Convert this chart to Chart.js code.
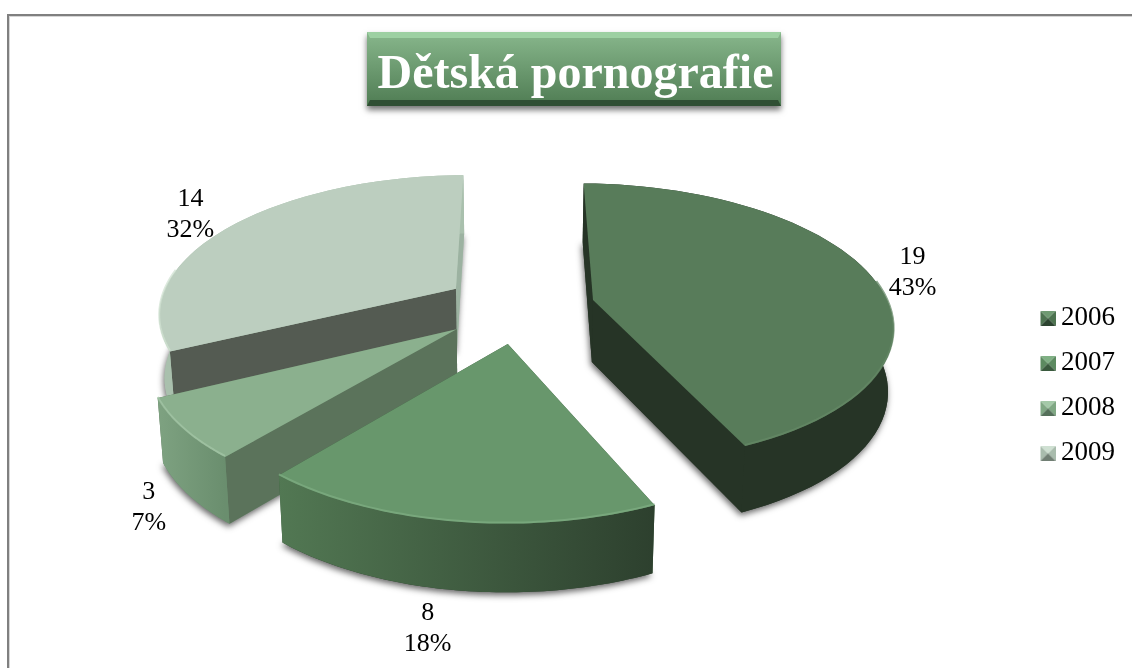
<!DOCTYPE html>
<html lang="cs">
<head>
<meta charset="utf-8">
<title>Dětská pornografie</title>
<style>html,body{margin:0;padding:0;background:#fff}canvas{display:block}</style>
<script src="https://cdn.jsdelivr.net/npm/chart.js@4/dist/chart.umd.min.js"></script>
</head>
<body>
<canvas id="c" width="1132" height="668"></canvas>
<script>
const categories = ['2006', '2007', '2008', '2009'];
const values = [19, 8, 3, 14];
const chartTitle = 'Dětská pornografie';

const topColors = ['#587c5a', '#68976c', '#8bb08e', '#bcceBf'];
const rimColors = ['#648866', '#7dac81', '#a3c6a6', '#d0e2d2'];
const radialWall = [['#263426', '#263426'], ['#3a5a3c', '#3a5a3c'], ['#5b735b', '#5b735b'], ['#545b52', '#9cb2a1']];
const outerWall = [['#263426', '#263426'], ['#527853', '#2d402e'], ['#7ea281', '#6a8e6e'], ['#a9c0ad', '#a9c0ad']];
const iconColors = [['#6f9a72', '#4d7350', '#2c4430'], ['#7fb084', '#5c8a60', '#3a5a3e'], ['#a4c9a8', '#80a884', '#55705a'], ['#cfe0d2', '#a9bcad', '#717f74']];
const FONT = '"Liberation Serif", "Times New Roman", serif';

// ground-plane perspective used to tilt the library's arcs
const VX = 517, HORIZON = -677, K = 4.7e-4, CA = 0.002, CZ = 2.1614, RX = 0.303, RZ = 0.305, BULGE = 3;
function project(u, v) {
  const a = CA + u * RX, z = CZ + v * RZ, Y = 1 / (K * z);
  return [VX + a * Y, HORIZON + Y + BULGE * (u * u + v * v)];
}
function lower(p) { return [VX + 0.985 * (p[0] - VX), p[1] * 1.03 + 53]; }

function outline(el) {
  const e = el.options.offset / el.outerRadius;
  const s = el.startAngle + Math.PI / 2, t = el.endAngle + Math.PI / 2, m = (s + t) / 2;
  const ou = Math.sin(m) * e, ov = Math.cos(m) * e;
  const n = 60, arc = [];
  for (let i = 0; i <= n; i++) {
    const a = s + (t - s) * i / n;
    arc.push({ p: project(ou + Math.sin(a), ov + Math.cos(a)), front: Math.cos(a) });
  }
  return { vertex: project(ou, ov), arc, m };
}
function poly(ctx, pts) {
  ctx.beginPath();
  pts.forEach((p, i) => i ? ctx.lineTo(p[0], p[1]) : ctx.moveTo(p[0], p[1]));
  ctx.closePath();
}

const pie3d = {
  id: 'pie3d',
  beforeDatasetsDraw(chart) {
    const ctx = chart.ctx, arcs = chart.getDatasetMeta(0).data;
    for (let i = arcs.length - 1; i >= 0; i--) {
      const o = outline(arcs[i]);
      const top = [o.vertex, ...o.arc.map(q => q.p)];
      const bot = top.map(lower);
      const first = o.arc[0].p, last = o.arc[o.arc.length - 1].p;
      const vb = lower(o.vertex);

      // soft shadow of the whole body
      ctx.save();
      ctx.shadowColor = 'rgba(0,0,0,0.6)';
      ctx.shadowBlur = 6;
      ctx.shadowOffsetX = -1;
      ctx.shadowOffsetY = 3;
      ctx.fillStyle = outerWall[i][1];
      poly(ctx, bot); ctx.fill();
      ctx.restore();

      // radial walls
      ctx.fillStyle = radialWall[i][1];
      poly(ctx, [o.vertex, last, lower(last), vb]); ctx.fill();
      ctx.fillStyle = radialWall[i][0];
      poly(ctx, [o.vertex, first, lower(first), vb]); ctx.fill();

      // outer curved wall
      const xs = o.arc.map(q => q.p[0]);
      const g = ctx.createLinearGradient(Math.min(...xs), 0, Math.max(...xs), 0);
      g.addColorStop(0, outerWall[i][0]);
      g.addColorStop(1, outerWall[i][1]);
      ctx.fillStyle = g;
      poly(ctx, [...o.arc.map(q => q.p), ...o.arc.map(q => lower(q.p)).reverse()]);
      ctx.fill();

      // top face
      ctx.fillStyle = arcs[i].options.backgroundColor;
      poly(ctx, top); ctx.fill();

      // bevelled front rim
      ctx.save();
      ctx.beginPath();
      let on = false;
      o.arc.forEach(q => {
        if (q.front < 0.2) { on ? ctx.lineTo(q.p[0], q.p[1] - 1) : ctx.moveTo(q.p[0], q.p[1] - 1); on = true; }
        else on = false;
      });
      ctx.lineWidth = 2;
      ctx.globalAlpha = 0.75;
      ctx.strokeStyle = rimColors[i];
      ctx.stroke();
      ctx.restore();
    }
    return false;
  },
  afterDraw(chart) {
    const ctx = chart.ctx, arcs = chart.getDatasetMeta(0).data;
    const sum = values.reduce((a, b) => a + b, 0);
    const labelRadius = 1.4, nudgeX = [2, -19, 3, -11], nudgeY = [-1, 7, -4, -4];
    ctx.save();
    ctx.font = '26px ' + FONT;
    ctx.fillStyle = '#000';
    ctx.textAlign = 'center';
    ctx.textBaseline = 'middle';
    arcs.forEach((el, i) => {
      const o = outline(el);
      const dirU = Math.sin(o.m), dirV = Math.cos(o.m);
      let p = project(dirU * labelRadius, dirV * labelRadius);
      if (dirV < 0) p = lower(p);
      const x = p[0] + nudgeX[i], y = p[1] + nudgeY[i];
      ctx.fillText(String(values[i]), x, y - 15.5);
      ctx.fillText(Math.round(values[i] / sum * 100) + '%', x, y + 15.5);
    });
    ctx.restore();
  },
  beforeDraw(chart) {
    const ctx = chart.ctx;
    ctx.save();
    ctx.fillStyle = '#fff';
    ctx.fillRect(0, 0, chart.width, chart.height);
    ctx.fillStyle = '#808080';
    ctx.fillRect(7, 14, chart.width - 7, 2);
    ctx.fillRect(7, 14, 2, chart.height - 14);
    ctx.fillStyle = '#d6d6d6';
    ctx.fillRect(9, 16, chart.width - 9, 1);
    ctx.fillRect(9, 16, 1, chart.height - 16);

    // title plaque
    const x = 367, y = 32, w = 414, h = 74, b = 6, side = 3;
    ctx.save();
    ctx.shadowColor = 'rgba(0,0,0,0.55)';
    ctx.shadowBlur = 6;
    ctx.shadowOffsetY = 4;
    ctx.fillStyle = '#5c8a60';
    ctx.fillRect(x, y, w, h);
    ctx.restore();
    const g = ctx.createLinearGradient(0, y, 0, y + h);
    g.addColorStop(0, '#88b78c');
    g.addColorStop(1, '#4f7c53');
    ctx.fillStyle = g;
    ctx.fillRect(x, y, w, h);
    ctx.fillStyle = '#9dd0a2';
    poly(ctx, [[x, y], [x + w, y], [x + w - side, y + b], [x + side, y + b]]); ctx.fill();
    ctx.fillStyle = '#2f4e33';
    poly(ctx, [[x, y + h], [x + w, y + h], [x + w - side, y + h - b], [x + side, y + h - b]]); ctx.fill();
    ctx.restore();
  }
};

function icon(i) {
  const c = document.createElement('canvas');
  c.width = 24; c.height = 15;
  const g = c.getContext('2d'), l = 9, r = 24, t = 0, b = 15, mx = 16.5, my = 7.5;
  const tri = (col, pts) => { g.fillStyle = col; poly(g, pts); g.fill(); };
  tri(iconColors[i][1], [[l, t], [mx, my], [l, b]]);
  tri(iconColors[i][1], [[r, t], [mx, my], [r, b]]);
  tri(iconColors[i][0], [[l, t], [r, t], [mx, my]]);
  tri(iconColors[i][2], [[l, b], [r, b], [mx, my]]);
  return c;
}

new Chart(document.getElementById('c'), {
  type: 'pie',
  data: {
    labels: categories,
    datasets: [{ data: values, backgroundColor: topColors, borderWidth: 0, offset: 62 }]
  },
  plugins: [pie3d],
  options: {
    responsive: false,
    animation: false,
    layout: { padding: { left: 26, right: 7, top: 0, bottom: 9 } },
    plugins: {
      tooltip: { enabled: false },
      title: {
        display: true,
        text: chartTitle,
        color: '#fff',
        font: { family: FONT, size: 48, weight: 'bold', lineHeight: 1.2 },
        padding: { top: 47, bottom: 8 }
      },
      legend: {
        position: 'right',
        fullSize: false,
        labels: {
          usePointStyle: true,
          pointStyleWidth: 8,
          padding: 18,
          color: '#000',
          font: { family: FONT, size: 27 },
          generateLabels: () => categories.map((t, i) => ({
            text: t, pointStyle: icon(i), fillStyle: topColors[i],
            strokeStyle: 'transparent', lineWidth: 0, hidden: false, index: i, fontColor: '#000'
          }))
        }
      }
    }
  }
});
</script>
</body>
</html>
